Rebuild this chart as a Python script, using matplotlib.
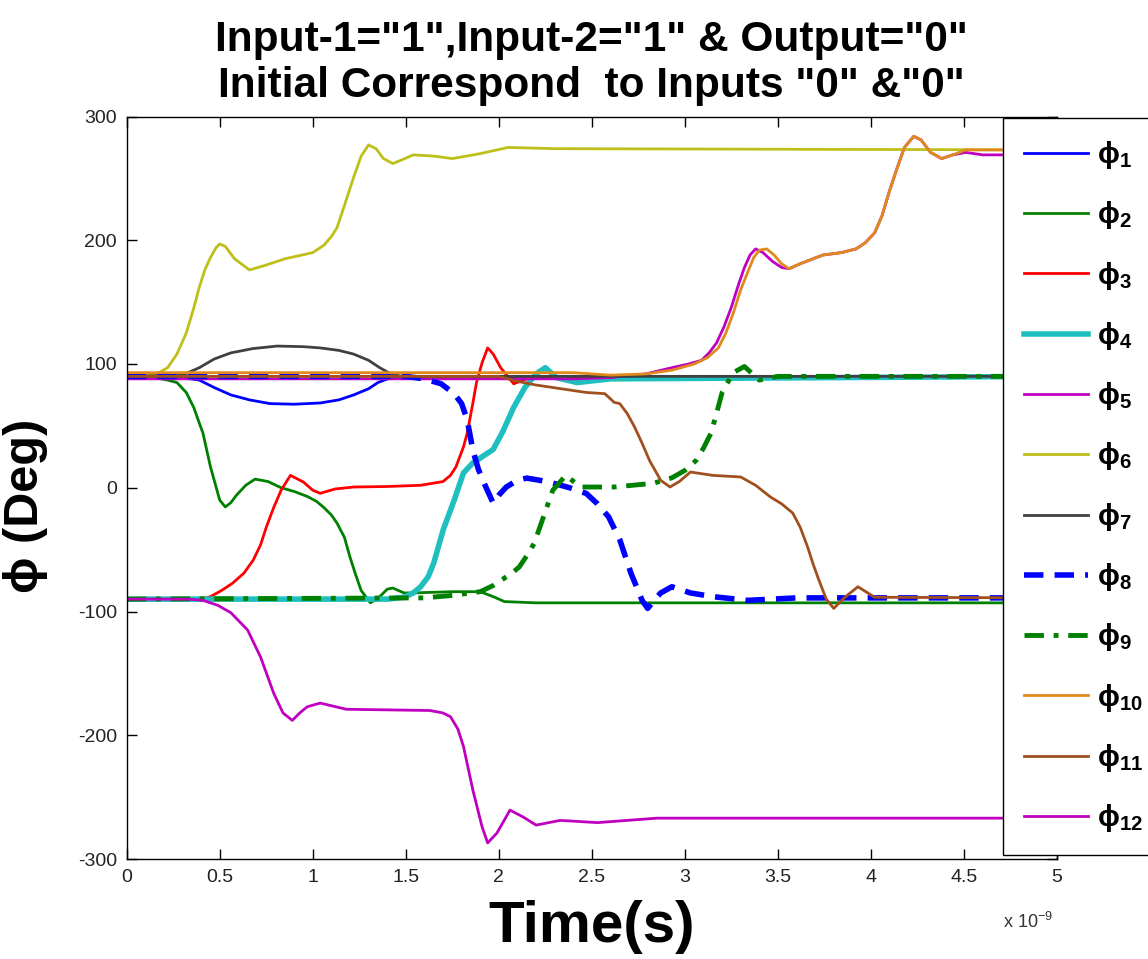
import numpy as np
import matplotlib
matplotlib.use("Agg")
import matplotlib.pyplot as plt
from matplotlib.ticker import FuncFormatter, MultipleLocator

plt.rcParams["font.family"] = ["Liberation Sans", "DejaVu Sans"]
plt.rcParams["mathtext.default"] = "regular"
plt.rcParams["axes.unicode_minus"] = False

# time in ns, phase in degrees
t1 = [0, 0.3, 0.39, 0.47, 0.56, 0.66, 0.77, 0.9, 1.04, 1.14, 1.22, 1.3, 1.35, 1.42, 1.5, 5.0]
p1 = [90, 89, 87, 81, 75, 71, 68, 67.5, 68.5, 71, 75, 80, 85, 89, 90, 90]

t2 = [0, 0.15, 0.22, 0.27, 0.32, 0.36, 0.41, 0.45, 0.50, 0.53, 0.56, 0.59, 0.64, 0.69, 0.76,
      0.83, 0.90, 0.97, 1.02, 1.06, 1.10, 1.13, 1.17, 1.20, 1.23, 1.26, 1.31, 1.36, 1.40, 1.43,
      1.49, 1.54, 1.75, 1.90, 1.97, 2.03, 2.2, 5.0]
p2 = [90, 89, 87, 85, 77, 65, 44, 17, -10, -15.5, -12, -6, 2, 7, 5,
      0, -3, -7, -11, -16, -22, -28.5, -40, -56, -70, -83, -93, -88, -82, -81,
      -85, -85, -84, -84, -88, -92, -93, -93]

t3 = [0, 0.40, 0.45, 0.51, 0.57, 0.63, 0.68, 0.72, 0.75, 0.79, 0.83, 0.88, 0.95, 1.0, 1.04,
      1.12, 1.22, 1.40, 1.58, 1.70, 1.74, 1.77, 1.81, 1.83, 1.86, 1.88, 1.91, 1.94, 1.97, 2.01,
      2.08, 2.15, 2.3, 5.0]
p3 = [-91, -90, -88, -83, -77, -69, -58.5, -46, -32, -16, -2, 10, 4.6, -2, -4.5,
      -1, 0.6, 1, 2, 5, 10, 17, 33, 44, 68, 85, 101, 113, 108, 97,
      84, 88, 90, 90]

t4 = [0, 1.40, 1.49, 1.54, 1.58, 1.62, 1.65, 1.70, 1.76, 1.81, 1.86, 1.92, 1.97, 2.02, 2.08,
      2.14, 2.20, 2.25, 2.31, 2.42, 2.6, 5.0]
p4 = [-90, -90, -88.5, -85, -80, -72, -61, -34.5, -10, 12, 20, 26, 31, 45, 65,
      81, 92, 97, 89, 85, 88, 90]

t5 = [0, 2.4, 2.6, 2.79, 2.93, 3.02, 3.09, 3.13, 3.17, 3.21, 3.25, 3.29, 3.32, 3.35, 3.38,
      3.42, 3.47, 3.52, 3.56, 3.62, 3.74, 3.84, 3.92, 3.97, 4.02, 4.06, 4.10, 4.14, 4.18, 4.23,
      4.27, 4.32, 4.38, 4.44, 4.51, 4.6, 5.0]
p5 = [88, 88, 89, 92, 97, 100, 103, 109, 117, 130, 146, 165, 178, 188, 193,
      190, 183, 178, 177, 181, 188, 190, 193, 198, 206, 220, 240, 258, 275, 284,
      281, 271, 266, 269, 271, 269, 269]

t6 = [0, 0.15, 0.22, 0.27, 0.32, 0.36, 0.39, 0.42, 0.45, 0.48, 0.50, 0.53, 0.58, 0.66, 0.75,
      0.85, 1.0, 1.06, 1.10, 1.13, 1.17, 1.22, 1.26, 1.30, 1.34, 1.38, 1.43, 1.48, 1.54, 1.65,
      1.75, 1.90, 2.05, 2.3, 5.0]
p6 = [90, 91, 97, 108, 125, 145, 162, 176, 186, 194, 197, 195, 185, 176, 180,
      185, 190, 196, 203, 210, 228, 251, 268, 277, 274, 266, 262, 265, 269, 268,
      266, 270, 275, 274, 273]

t7 = [0, 0.3, 0.39, 0.47, 0.56, 0.68, 0.81, 0.95, 1.04, 1.14, 1.22, 1.30, 1.36, 1.42, 1.48, 5.0]
p7 = [90, 91, 97, 104, 109, 112.5, 114.5, 114, 113, 111, 108, 103, 97, 92, 90, 90]

t8 = [0, 1.50, 1.60, 1.69, 1.76, 1.80, 1.83, 1.86, 1.89, 1.92, 1.97, 2.00, 2.04, 2.10, 2.15,
      2.22, 2.29, 2.38, 2.47, 2.53, 2.59, 2.65, 2.71, 2.77, 2.80, 2.84, 2.87, 2.93, 3.03, 3.15,
      3.34, 3.6, 5.0]
p8 = [90, 90, 88, 84, 76, 68, 55, 30.5, 15, 4, -12.5, -6, 0.6, 6, 7.8,
      6, 3.8, 0, -4.6, -13, -23.5, -42, -69, -91, -97.5, -90, -85, -80, -85, -88,
      -91, -89, -89]

t9 = [0, 1.6, 1.75, 1.90, 1.97, 2.03, 2.07, 2.11, 2.15, 2.19, 2.24, 2.29, 2.36, 2.44, 2.62,
      2.83, 2.93, 3.0, 3.06, 3.10, 3.14, 3.17, 3.2, 3.26, 3.32, 3.40, 3.5, 5.0]
p9 = [-90, -89, -87, -84, -79, -73, -69, -64, -55, -45, -23.5, -2, 10, 0.6, 0.6,
      3.6, 8, 14, 22, 32, 44, 60, 77, 93, 98, 87, 90, 90]

t10 = [0, 2.4, 2.6, 2.79, 2.93, 3.05, 3.12, 3.18, 3.22, 3.26, 3.30, 3.34, 3.37, 3.40, 3.44,
       3.48, 3.52, 3.56, 3.62, 3.74, 3.84, 3.92, 3.97, 4.02, 4.06, 4.10, 4.14, 4.18, 4.23, 4.27,
       4.32, 4.38, 4.44, 4.51, 4.6, 5.0]
p10 = [93, 93, 91, 92, 95, 100, 105, 113, 125, 141, 160, 175, 186, 192, 193,
       188, 181, 177, 181, 188, 190, 193, 198, 206, 220, 240, 258, 275, 284, 281,
       271, 266, 269, 273, 273, 273]

t11 = [0, 2.0, 2.1, 2.2, 2.29, 2.47, 2.57, 2.62, 2.65, 2.69, 2.73, 2.77, 2.81, 2.87, 2.92,
       2.97, 3.03, 3.15, 3.30, 3.38, 3.46, 3.52, 3.58, 3.62, 3.66, 3.69, 3.72, 3.76, 3.80, 3.83,
       3.86, 3.93, 4.02, 5.0]
p11 = [90, 90, 86, 83, 81, 77, 76, 69, 68, 60, 49, 36, 22, 6, 0.6,
       5, 12.7, 10, 8.7, 2, -7.5, -13, -20.5, -32, -48, -62, -74.5, -90, -97.5, -93,
       -88.5, -80, -88.5, -89]

t12 = [0, 0.33, 0.41, 0.49, 0.56, 0.65, 0.72, 0.79, 0.84, 0.89, 0.93, 0.97, 1.04, 1.18, 1.63,
       1.70, 1.74, 1.78, 1.81, 1.86, 1.91, 1.94, 1.99, 2.06, 2.13, 2.20, 2.33, 2.53, 2.85, 5.0]
p12 = [-90, -90, -91, -95, -101, -115, -137, -166, -182, -188, -182, -177, -174, -179, -180,
       -182, -185, -195, -209, -244, -274, -287, -279, -260.5, -266, -272.6, -268.8, -270.6, -267, -267]

series = [
    (t1, p1, "#0000FF", "-", 2.0),
    (t2, p2, "#008000", "-", 2.0),
    (t3, p3, "#FF0000", "-", 2.0),
    (t4, p4, "#1FBFBF", "-", 4.0),
    (t5, p5, "#BF00BF", "-", 2.0),
    (t6, p6, "#BFBF1A", "-", 2.0),
    (t7, p7, "#404040", "-", 2.0),
    (t8, p8, "#0000FF", (0, (3.5, 2)), 4.0),
    (t9, p9, "#008000", (0, (4, 2, 1, 2)), 3.5),
    (t10, p10, "#E08A1E", "-", 2.0),
    (t11, p11, "#A0501E", "-", 2.0),
    (t12, p12, "#BF00BF", "-", 2.0),
]

W, H = 1148, 959
fig = plt.figure(figsize=(W / 100, H / 100), dpi=100)
ax = fig.add_axes([126.7 / W, 1 - 859 / H, (1057 - 126.7) / W, (859 - 116.5) / H])

for i, (t, p, c, ls, lw) in enumerate(series, start=1):
    ax.plot(np.array(t) * 1e-9, p, color=c, linestyle=ls, linewidth=lw,
            label="\u03d5$_{%d}$" % i)

ax.set_xlim(0, 5e-9)
ax.set_ylim(-300, 300)
ax.xaxis.set_major_locator(MultipleLocator(0.5e-9))
ax.yaxis.set_major_locator(MultipleLocator(100))
ax.xaxis.set_major_formatter(FuncFormatter(lambda x, pos: f"{x * 1e9:g}"))
ax.tick_params(direction="in", length=7, width=1, top=True, right=True,
               labelsize=14, labelcolor="#222222", pad=7)
for s in ax.spines.values():
    s.set_linewidth(1.0)

ax.set_title('Input-1="1",Input-2="1" & Output="0"\nInitial Correspond  to Inputs "0" &"0"',
             fontsize=30.5, fontweight="bold", linespacing=1.2, pad=14)
ax.set_xlabel("Time(s)", fontsize=42, fontweight="bold", labelpad=10)
ax.set_ylabel("\u03d5 (Deg)", fontsize=35, fontweight="bold")
ax.yaxis.set_label_coords(-0.085, 0.475)

fig.text(1003 / W, 1 - 922 / H, "x 10$^{-9}$", fontsize=13, color="#333333",
         va="center", ha="left")

leg = fig.legend(loc="upper left", bbox_to_anchor=(1003 / W, 1 - 118 / H),
                 prop={"weight": "bold", "size": 21},
                 frameon=True, fancybox=False, edgecolor="black", framealpha=1,
                 borderpad=0.72, labelspacing=0.97, handlelength=2.2,
                 handletextpad=0.3, borderaxespad=0)
leg.get_frame().set_linewidth(1.0)

fig.savefig("out.png", dpi=100)
